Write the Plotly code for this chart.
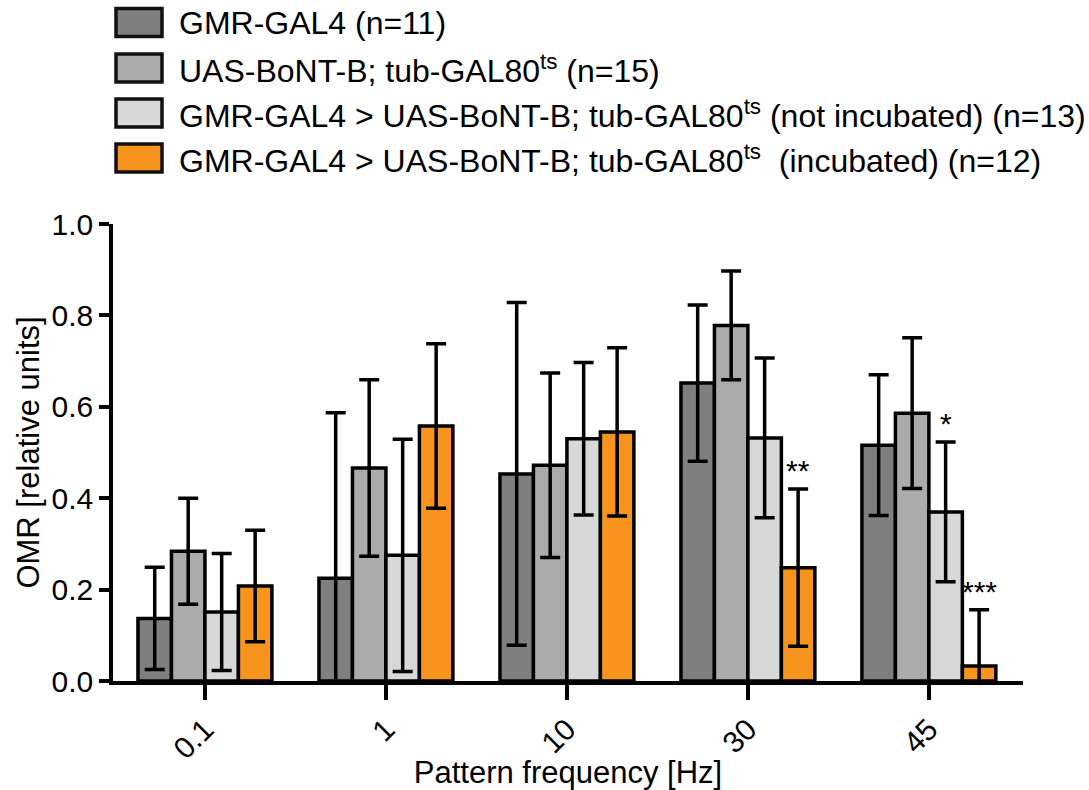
import plotly.graph_objects as go

# ---------------- data ----------------
categories = ["0.1", "1", "10", "30", "45"]

series_names = [
    "GMR-GAL4 (n=11)",
    "UAS-BoNT-B; tub-GAL80<sup>ts</sup> (n=15)",
    "GMR-GAL4 &gt; UAS-BoNT-B; tub-GAL80<sup>ts</sup> (not incubated) (n=13)",
    "GMR-GAL4 &gt; UAS-BoNT-B; tub-GAL80<sup>ts</sup>  (incubated) (n=12)",
]

gmr_mean = [0.137, 0.225, 0.453, 0.652, 0.516]
gmr_err = [0.112, 0.362, 0.375, 0.171, 0.154]

uas_mean = [0.284, 0.466, 0.472, 0.778, 0.586]
uas_err = [0.116, 0.193, 0.202, 0.119, 0.165]

notinc_mean = [0.151, 0.275, 0.530, 0.532, 0.370]
notinc_err = [0.128, 0.254, 0.167, 0.175, 0.153]

inc_mean = [0.208, 0.558, 0.545, 0.248, 0.033]
inc_err = [0.122, 0.180, 0.184, 0.172, 0.123]

# significance marks: (category index, series index, label)
sig_cat = [3, 4, 4]
sig_series = [3, 2, 3]
sig_text = ["**", "*", "***"]

colors = ["#7f7f7f", "#ababab", "#d7d9d8", "#f7941d"]

means = [gmr_mean, uas_mean, notinc_mean, inc_mean]
errs = [gmr_err, uas_err, notinc_err, inc_err]

FONT = "Liberation Sans, Arial, Helvetica, sans-serif"
BARGAP = 0.26

fig = go.Figure()
for name, m, e, c in zip(series_names, means, errs, colors):
    fig.add_trace(go.Bar(
        x=categories, y=m, name=name,
        marker=dict(color=c, line=dict(color="black", width=3.5)),
        error_y=dict(type="data", array=e, visible=True, color="black",
                     thickness=3.5, width=10),
        showlegend=False,
    ))

# significance annotations
bar_w = (1 - BARGAP) / len(means)
annotations = []
for ci, si, t in zip(sig_cat, sig_series, sig_text):
    xpos = ci + (si - (len(means) - 1) / 2) * bar_w
    annotations.append(dict(
        x=xpos, y=means[si][ci] + errs[si][ci], xref="x", yref="y",
        text=t, showarrow=False, xanchor="center", yanchor="bottom",
        yshift=0, font=dict(family=FONT, size=30, color="black")))

# manual legend (large swatches) in paper coordinates
L, R, T, B = 113, 66, 224, 109
W, H = 1089 - L - R, 790 - T - B


def px_x(px):
    return (px - L) / W


def px_y(py):
    return (790 - B - py) / H


shapes = []
row_centers = [22.5, 68, 113, 158]
for name, c, yc in zip(series_names, colors, row_centers):
    shapes.append(dict(type="rect", xref="paper", yref="paper",
                       x0=px_x(116), x1=px_x(162), y0=px_y(yc + 14), y1=px_y(yc - 14),
                       fillcolor=c, line=dict(color="#111111", width=3.5)))
    annotations.append(dict(x=px_x(177), y=px_y(yc + 1), xref="paper", yref="paper",
                            text=name, showarrow=False, xanchor="left", yanchor="middle",
                            font=dict(family=FONT, size=32, color="black")))

fig.update_layout(
    width=1089, height=790,
    margin=dict(l=L, r=R, t=T, b=B, autoexpand=False),
    paper_bgcolor="white", plot_bgcolor="white",
    barmode="group", bargap=BARGAP, bargroupgap=0,
    font=dict(family=FONT, color="black"),
    shapes=shapes, annotations=annotations,
    showlegend=False,
)

fig.update_xaxes(
    type="category", range=[-0.508, 4.52],
    showline=True, linecolor="black", linewidth=3.5,
    ticks="outside", ticklen=15, tickwidth=3.5, tickcolor="black",
    tickangle=-45, tickfont=dict(family=FONT, size=30),
    showgrid=False, zeroline=False,
    title=dict(text="Pattern frequency [Hz]", font=dict(family=FONT, size=31), standoff=4),
)
fig.update_yaxes(
    range=[0, 1.0], dtick=0.2, tickformat=".1f",
    showline=True, linecolor="black", linewidth=3.5,
    ticks="outside", ticklen=10, tickwidth=3.5, tickcolor="black",
    tickfont=dict(family=FONT, size=30),
    showgrid=False, zeroline=False,
    title=dict(text="OMR [relative units]", font=dict(family=FONT, size=31), standoff=4),
)

fig.write_html("out.html")
